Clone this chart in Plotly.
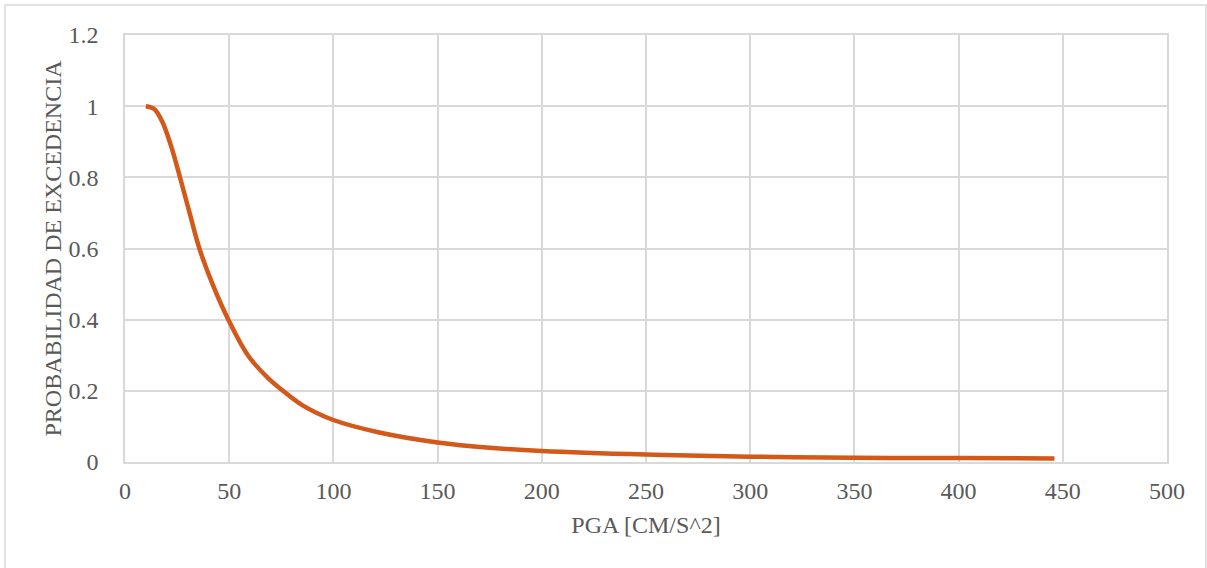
import plotly.graph_objects as go

pga = [10, 14, 18, 22, 26.4, 31, 35.7, 42.0, 49.6, 59.2, 68.8, 75.2, 85, 100,
       122, 150, 175, 200, 250, 300, 350, 400, 446]
prob = [1.0, 0.992, 0.955, 0.89, 0.80, 0.70, 0.60, 0.50, 0.40, 0.298, 0.235, 0.203,
        0.160, 0.118, 0.083, 0.055, 0.040, 0.031, 0.021, 0.015, 0.012, 0.011, 0.010]

x_ticks = list(range(0, 501, 50))
y_ticks = [0, 0.2, 0.4, 0.6, 0.8, 1, 1.2]
y_tick_text = ["0", "0.2", "0.4", "0.6", "0.8", "1", "1.2"]

FONT = "'Liberation Serif', 'Times New Roman', serif"
GRID = "#D9D9D9"
TXT = "#595959"
FS = 24

fig = go.Figure()
fig.add_trace(go.Scatter(
    x=pga, y=prob, mode="lines",
    line=dict(color="#D4581A", width=4.5, shape="spline", smoothing=1.0),
    showlegend=False, hoverinfo="skip",
))

L, R, T, B = 125, 40, 35, 106
W, H = 1207, 568
pw, ph = W - L - R, H - T - B

fig.update_layout(
    width=W, height=H,
    margin=dict(l=L, r=R, t=T, b=B),
    paper_bgcolor="white", plot_bgcolor="white",
    font=dict(family=FONT, size=FS, color=TXT),
    xaxis=dict(
        range=[0, 500], tickvals=x_ticks, showgrid=True, gridcolor=GRID, gridwidth=1.5,
        showline=True, linecolor=GRID, linewidth=1.5, mirror=True, zeroline=False,
        ticks="outside", ticklen=0, tickcolor="white", ticklabelstandoff=6,
        tickfont=dict(family=FONT, size=FS, color=TXT),
        title=dict(text="PGA [CM/S^2]", font=dict(family=FONT, size=FS, color=TXT), standoff=14),
    ),
    yaxis=dict(
        range=[0, 1.2], tickvals=y_ticks, ticktext=y_tick_text, showgrid=True,
        gridcolor=GRID, gridwidth=1.5, showline=True, linecolor=GRID, linewidth=1.5,
        mirror=True, zeroline=False,
        ticks="outside", ticklen=0, tickcolor="white", ticklabelstandoff=20,
        tickfont=dict(family=FONT, size=FS, color=TXT),
        title=dict(text="PROBABILIDAD DE EXCEDENCIA", font=dict(family=FONT, size=FS, color=TXT), standoff=0),
    ),
)

def px_x(p):
    return (p - L) / pw

def px_y(p):
    return (H - B - p) / ph

fig.add_shape(type="rect", xref="paper", yref="paper",
              x0=px_x(5), x1=px_x(1206), y0=px_y(575), y1=px_y(5),
              line=dict(color=GRID, width=1.5), fillcolor="rgba(0,0,0,0)", layer="below")

fig.write_html("out.html")
